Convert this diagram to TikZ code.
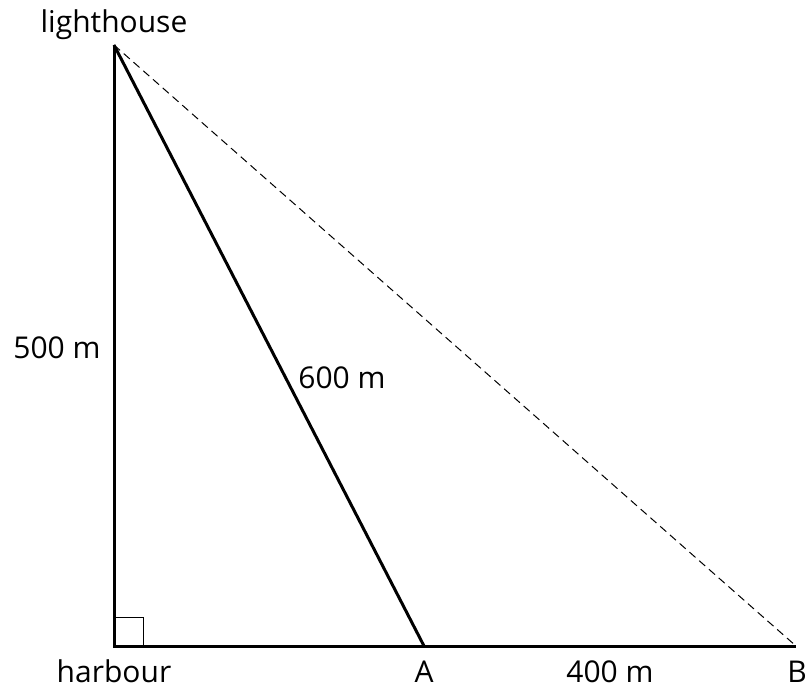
\documentclass[tikz,border=0pt]{standalone}
\usepackage{fontspec}
\setmainfont{Open Sans}
\usetikzlibrary{calc}

\begin{document}
\begin{tikzpicture}[x=1pt, y=1pt, every node/.style={font=\fontsize{30}{34}\selectfont}]
        \useasboundingbox (0, 0) rectangle (811, 694);
        \coordinate (L) at (114, 649);
        \coordinate (H) at (114, 48);
        \coordinate (A) at (424, 48);
        \coordinate (B) at (796, 48);

        \draw[line width=3pt, line join=miter] (L) -- (H) -- (B);
        \draw[line width=3pt] (L) -- (A);
        \draw[line width=1pt, dash pattern=on 8pt off 5pt] (L) -- (B);
        \draw[line width=1pt] ($(H)+(0,29)$) -| ($(H)+(29,0)$);

        \node[anchor=base] (lighthouse) at (114, 661) {lighthouse};
        \node[anchor=base] (harbour) at (114, 12) {harbour};
        \node[anchor=base] (labA) at (424, 12) {A};
        \node[anchor=base] (labB) at (797, 12) {B};
        \node[anchor=base] (labAB) at (610, 12) {400 m};
        \node[anchor=base] (labLH) at (57, 335) {500 m};
        \node[anchor=base] (labLA) at (342, 305) {600 m};

    \end{tikzpicture}
\end{document}
